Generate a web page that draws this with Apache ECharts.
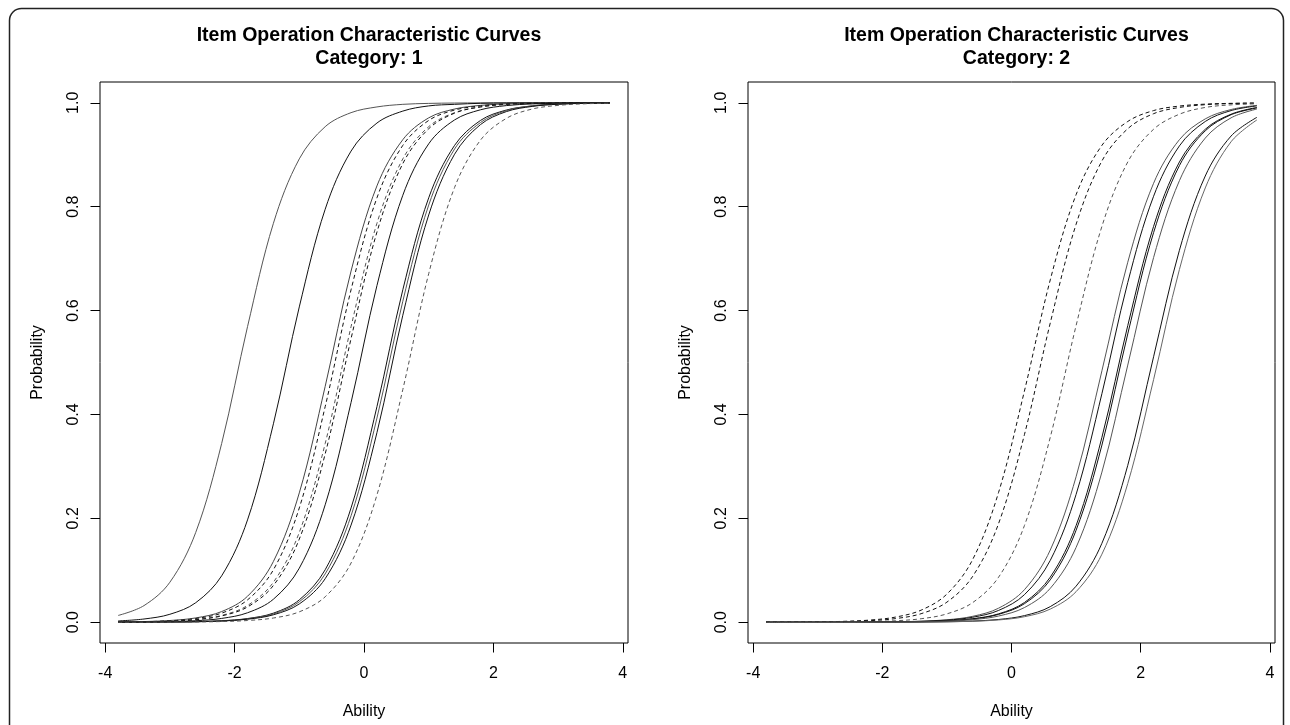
<!DOCTYPE html>
<html>
<head>
<meta charset="utf-8">
<script src="https://cdn.jsdelivr.net/npm/echarts@6/dist/echarts.min.js"></script>
<style>
html,body{margin:0;padding:0;background:#fff;}
#chart{width:1290px;height:725px;}
</style>
</head>
<body>
<div id="chart"></div>
<script>
// ---- data ----
const ability = [-3.8,-3.4,-3.0,-2.6,-2.2,-1.8,-1.4,-1.0,-0.6,-0.2,0.2,0.6,1.0,1.4,1.8,2.2,2.6,3.0,3.4,3.8];
const xTicks = [-4,-2,0,2,4];
const yTicks = [0,0.2,0.4,0.6,0.8,1.0];
const panelTitles = ["Item Operation Characteristic Curves\nCategory: 1", "Item Operation Characteristic Curves\nCategory: 2"];

// Category 1 curves
const cat1_item1 = [0.013,0.032,0.077,0.173,0.344,0.569,0.768,0.892,0.954,0.981,0.992,0.997,0.9988,0.9995,0.9998,0.9999,1,1,1,1];
const cat1_item2 = [0.0025,0.0062,0.0153,0.0376,0.0893,0.197,0.382,0.607,0.795,0.907,0.961,0.984,0.994,0.997,0.999,0.9996,0.9998,0.9999,1,1];
const cat1_item3 = [0.0005,0.0013,0.0033,0.0083,0.0205,0.050,0.117,0.249,0.454,0.676,0.840,0.929,0.971,0.988,0.995,0.998,0.999,0.9997,0.9999,1];
const cat1_item4 = [0.0005,0.0011,0.0028,0.0071,0.0175,0.043,0.101,0.220,0.415,0.640,0.817,0.918,0.966,0.986,0.994,0.998,0.999,0.9996,0.9999,1];
const cat1_item5 = [0.0003,0.0008,0.0021,0.0053,0.0131,0.0322,0.077,0.173,0.344,0.569,0.768,0.892,0.954,0.981,0.992,0.997,0.9988,0.9995,0.9998,0.9999];
const cat1_item6 = [0.0003,0.0008,0.0019,0.0048,0.0121,0.0294,0.0708,0.160,0.324,0.546,0.751,0.883,0.950,0.980,0.992,0.997,0.9987,0.9995,0.9998,0.9999];
const cat1_item7 = [0.0002,0.0005,0.0012,0.0029,0.0073,0.0182,0.0443,0.104,0.226,0.423,0.648,0.822,0.921,0.967,0.9865,0.9946,0.9978,0.9991,0.9997,0.9999];
const cat1_item8 = [0.0001,0.0002,0.0005,0.0011,0.0028,0.0071,0.0175,0.043,0.101,0.220,0.415,0.640,0.817,0.918,0.966,0.986,0.994,0.998,0.999,0.9996];
const cat1_item9 = [0.0001,0.0002,0.0004,0.001,0.0026,0.0065,0.016,0.0393,0.093,0.205,0.393,0.618,0.803,0.911,0.962,0.985,0.994,0.9975,0.999,0.9996];
const cat1_item10 = [0.0001,0.0002,0.0004,0.0009,0.0023,0.0058,0.0143,0.0352,0.0838,0.187,0.365,0.591,0.784,0.901,0.958,0.983,0.993,0.9972,0.9989,0.9996];
const cat1_item11 = [0,0.0001,0.0002,0.0005,0.0013,0.0033,0.0081,0.020,0.049,0.114,0.245,0.448,0.671,0.837,0.928,0.970,0.988,0.995,0.998,0.9992];

// Category 2 curves
const cat2_item1 = [0.0001,0.0003,0.0007,0.0017,0.0041,0.0098,0.0232,0.0542,0.121,0.250,0.445,0.659,0.823,0.918,0.964,0.985,0.9937,0.9974,0.9989,0.9995];
const cat2_item2 = [0.0001,0.0002,0.0005,0.0012,0.0029,0.0069,0.0164,0.0387,0.0885,0.190,0.361,0.576,0.766,0.888,0.950,0.979,0.991,0.9963,0.9985,0.9994];
const cat2_item3 = [0,0.0001,0.0002,0.0005,0.0012,0.0028,0.0067,0.0161,0.0379,0.0867,0.186,0.356,0.571,0.762,0.886,0.949,0.978,0.991,0.996,0.998];
const cat2_item4 = [0,0,0.0001,0.0001,0.0003,0.0008,0.002,0.0047,0.0114,0.027,0.0626,0.139,0.280,0.484,0.693,0.845,0.929,0.969,0.987,0.995];
const cat2_item5 = [0,0,0,0.0001,0.0003,0.0007,0.0017,0.004,0.0096,0.0227,0.053,0.119,0.246,0.440,0.654,0.820,0.917,0.964,0.985,0.994];
const cat2_item6 = [0,0,0,0.0001,0.0002,0.0005,0.0012,0.0028,0.0067,0.0161,0.0379,0.0867,0.186,0.356,0.571,0.762,0.886,0.949,0.978,0.991];
const cat2_item7 = [0,0,0,0.0001,0.0002,0.0005,0.0011,0.0026,0.0063,0.0151,0.0356,0.0816,0.177,0.341,0.555,0.750,0.879,0.946,0.977,0.990];
const cat2_item8 = [0,0,0,0.0001,0.0002,0.0004,0.0009,0.0021,0.005,0.0119,0.0282,0.0652,0.144,0.289,0.495,0.702,0.850,0.932,0.971,0.988];
const cat2_item9 = [0,0,0,0,0.0001,0.0002,0.0004,0.0009,0.0022,0.0053,0.0127,0.030,0.0694,0.152,0.302,0.511,0.716,0.859,0.936,0.972];
const cat2_item10 = [0,0,0,0,0.0001,0.0001,0.0003,0.0008,0.0019,0.0044,0.0106,0.0253,0.0588,0.131,0.267,0.467,0.679,0.836,0.925,0.967];

const panel1Curves = [cat1_item1,cat1_item2,cat1_item3,cat1_item4,cat1_item5,cat1_item6,cat1_item7,cat1_item8,cat1_item9,cat1_item10,cat1_item11];
const panel2Curves = [cat2_item1,cat2_item2,cat2_item3,cat2_item4,cat2_item5,cat2_item6,cat2_item7,cat2_item8,cat2_item9,cat2_item10];

// ---- styles (separate from data) ----
const panel1Styles = [
  {c:'#555',d:false},{c:'#111',d:false},{c:'#444',d:false},{c:'#111',d:true},{c:'#555',d:true},
  {c:'#111',d:true},{c:'#111',d:false},{c:'#111',d:false},{c:'#555',d:false},{c:'#111',d:false},{c:'#555',d:true}
];
const panel2Styles = [
  {c:'#111',d:true},{c:'#111',d:true},{c:'#555',d:true},{c:'#555',d:false},{c:'#111',d:false},
  {c:'#111',d:false},{c:'#111',d:false},{c:'#555',d:false},{c:'#111',d:false},{c:'#666',d:false}
];

const FONT = 'Liberation Sans, Arial, sans-serif';
const grids = [
  {left:100, top:82, width:528, height:561},
  {left:748, top:82, width:527, height:561}
];

function makeX(i){
  return {
    gridIndex:i, type:'value', min:-4.08, max:4.08,
    axisLine:{show:false, onZero:false}, splitLine:{show:false},
    axisTick:{show:true, customValues:xTicks, length:9.5, lineStyle:{color:'#000', width:1}},
    axisLabel:{customValues:xTicks, margin:23, fontSize:16, color:'#000', fontFamily:FONT,
      formatter:v=>String(v)},
    name:'Ability', nameLocation:'middle', nameGap:61,
    nameTextStyle:{fontSize:16, color:'#000', fontFamily:FONT}
  };
}
function makeY(i){
  return {
    gridIndex:i, type:'value', min:-0.04, max:1.04,
    axisLine:{show:false, onZero:false}, splitLine:{show:false},
    axisTick:{show:true, customValues:yTicks, length:9.5, lineStyle:{color:'#000', width:1}},
    axisLabel:{customValues:yTicks, rotate:90, margin:18, fontSize:16, color:'#000', fontFamily:FONT,
      formatter:v=>Number(v).toFixed(1)},
    name:'Probability', nameLocation:'middle', nameGap:54, nameRotate:90,
    nameTextStyle:{fontSize:16, color:'#000', fontFamily:FONT}
  };
}

const series = [];
function addPanel(curves, styles, idx){
  curves.forEach((vals, k) => {
    const st = styles[k];
    series.push({
      type:'line', xAxisIndex:idx, yAxisIndex:idx,
      data: ability.map((x, j) => [x, vals[j]]),
      showSymbol:false, symbol:'none', smooth:0.35, silent:true,
      lineStyle:{color:st.c, width:1, type: st.d ? [4,3] : 'solid'},
      z: 2
    });
  });
}
addPanel(panel1Curves, panel1Styles, 0);
addPanel(panel2Curves, panel2Styles, 1);

const chart = echarts.init(document.getElementById('chart'), null, {renderer:'canvas'});
chart.setOption({
  animation:false,
  backgroundColor:'#fff',
  title: panelTitles.map((t, i) => ({
    text:t, left: grids[i].left + grids[i].width/2, top:19, textAlign:'center',
    textStyle:{fontSize:19.5, fontWeight:'bold', color:'#000', fontFamily:FONT, lineHeight:23}
  })),
  grid: grids.map(g => Object.assign({show:true, borderColor:'#000', borderWidth:1, backgroundColor:'transparent', containLabel:false}, g)),
  xAxis:[makeX(0), makeX(1)],
  yAxis:[makeY(0), makeY(1)],
  series: series,
  graphic:[{
    type:'rect', silent:true, z:100,
    shape:{x:9.5, y:8.5, width:1274, height:780, r:12},
    style:{fill:'none', stroke:'#222', lineWidth:1.5}
  }]
});
</script>
</body>
</html>
